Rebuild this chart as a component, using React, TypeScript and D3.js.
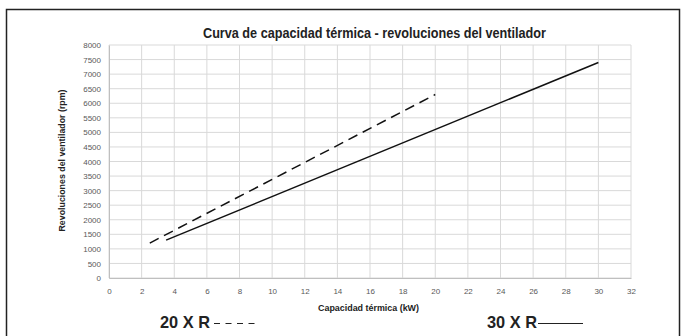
import React, { useEffect, useRef } from 'react';
import * as d3 from 'd3';

const xTicks = [0, 2, 4, 6, 8, 10, 12, 14, 16, 18, 20, 22, 24, 26, 28, 30, 32];
const yTicks = [0, 500, 1000, 1500, 2000, 2500, 3000, 3500, 4000, 4500, 5000, 5500, 6000, 6500, 7000, 7500, 8000];

// 20 X R (dashed) and 30 X R (solid)
const capacity20 = [2.5, 20];
const rpm20 = [1200, 6300];
const capacity30 = [3.5, 30];
const rpm30 = [1300, 7400];

const FONT = "'Liberation Sans Narrow', 'Arial Narrow', 'Liberation Sans', Arial, sans-serif";

const App = () => {
    const svgRef = useRef<SVGSVGElement>(null);

    useEffect(() => {
        const W = 684, H = 336;
        const margin = { top: 45, right: 53, bottom: 58, left: 109 };
        const width = W - margin.left - margin.right;
        const height = H - margin.top - margin.bottom;

        const root = d3.select(svgRef.current);
        root.selectAll('*').remove();
        root.attr('width', W).attr('height', H);

        root.append('rect')
            .attr('x', 0).attr('y', 0).attr('width', W).attr('height', H)
            .attr('fill', '#fff');

        // outer frame
        root.append('rect')
            .attr('x', 6.5).attr('y', 9.5).attr('width', 673).attr('height', 340)
            .attr('fill', 'none')
            .attr('stroke', '#222')
            .attr('stroke-width', 1.5);

        root.append('text')
            .attr('x', 203)
            .attr('y', 38)
            .attr('textLength', 343)
            .attr('lengthAdjust', 'spacingAndGlyphs')
            .style('font-family', FONT)
            .style('font-weight', 'bold')
            .style('font-size', '14px')
            .attr('fill', '#222')
            .text('Curva de capacidad térmica - revoluciones del ventilador');

        const svg = root.append('g')
            .attr('transform', `translate(${margin.left},${margin.top})`);

        const xScale = d3.scaleLinear().domain([0, 32]).range([0, width]);
        const yScale = d3.scaleLinear().domain([0, 8000]).range([height, 0]);

        // grid
        svg.append('g')
            .selectAll('line')
            .data(xTicks)
            .enter()
            .append('line')
            .attr('x1', d => xScale(d)).attr('x2', d => xScale(d))
            .attr('y1', 0).attr('y2', height)
            .attr('stroke', '#d9d9d9');

        svg.append('g')
            .selectAll('line')
            .data(yTicks)
            .enter()
            .append('line')
            .attr('x1', 0).attr('x2', width)
            .attr('y1', d => yScale(d)).attr('y2', d => yScale(d))
            .attr('stroke', '#d9d9d9');

        // axes
        const xAxis = svg.append('g')
            .attr('transform', `translate(0, ${height})`)
            .call(d3.axisBottom(xScale).tickValues(xTicks).tickFormat(d3.format('d')).tickSize(0).tickPadding(10));
        const yAxis = svg.append('g')
            .call(d3.axisLeft(yScale).tickValues(yTicks).tickFormat(d3.format('d')).tickSize(0).tickPadding(8));

        [xAxis, yAxis].forEach(a => {
            a.select('.domain').attr('stroke', '#bfbfbf');
            a.selectAll('text')
                .style('font-family', FONT)
                .style('font-size', '8px')
                .attr('fill', '#595959');
        });

        const line = d3.line<[number, number]>()
            .x(d => xScale(d[0]))
            .y(d => yScale(d[1]));

        svg.append('path')
            .datum(capacity20.map((c, i) => [c, rpm20[i]] as [number, number]))
            .attr('d', line)
            .attr('fill', 'none')
            .attr('stroke', '#111')
            .attr('stroke-width', 1.5)
            .attr('stroke-dasharray', '10,6');

        svg.append('path')
            .datum(capacity30.map((c, i) => [c, rpm30[i]] as [number, number]))
            .attr('d', line)
            .attr('fill', 'none')
            .attr('stroke', '#111')
            .attr('stroke-width', 1.5);

        // axis titles
        svg.append('text')
            .attr('x', width / 2 - 52)
            .attr('y', height + 33)
            .attr('textLength', 101)
            .attr('lengthAdjust', 'spacingAndGlyphs')
            .style('font-family', FONT)
            .style('font-weight', 'bold')
            .style('font-size', '9px')
            .attr('fill', '#222')
            .text('Capacidad térmica (kW)');

        svg.append('text')
            .attr('transform', 'rotate(-90)')
            .attr('x', -height / 2 - 71 + 1)
            .attr('y', -44)
            .attr('textLength', 142)
            .attr('lengthAdjust', 'spacingAndGlyphs')
            .style('font-family', FONT)
            .style('font-weight', 'bold')
            .style('font-size', '9px')
            .attr('fill', '#222')
            .text('Revoluciones del ventilador (rpm)');

        // legend
        const legend = [
            { label: '20 X R', x: 160, dash: '6,5.5', lx1: 214, lx2: 257 },
            { label: '30 X R', x: 487, dash: null, lx1: 538, lx2: 583 },
        ];
        legend.forEach(l => {
            root.append('text')
                .attr('x', l.x)
                .attr('y', 328)
                .attr('textLength', 50)
                .attr('lengthAdjust', 'spacingAndGlyphs')
                .style('font-family', FONT)
                .style('font-weight', 'bold')
                .style('font-size', '17px')
                .attr('fill', '#222')
                .text(l.label);
            root.append('line')
                .attr('x1', l.lx1).attr('x2', l.lx2)
                .attr('y1', 323.5).attr('y2', 323.5)
                .attr('stroke', '#222')
                .attr('stroke-width', 1)
                .attr('stroke-dasharray', l.dash);
        });
    }, []);

    return (
        <svg ref={svgRef} style={{ position: 'absolute', left: 0, top: 0 }}></svg>
    );
};

export default App;
